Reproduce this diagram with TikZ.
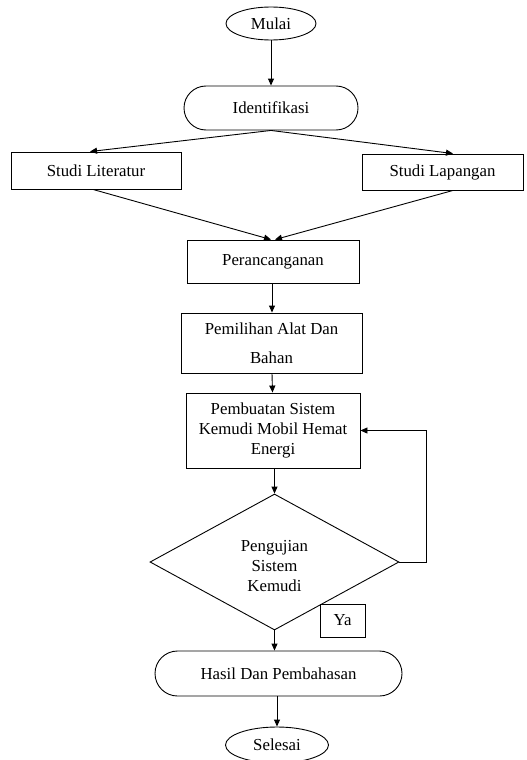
\documentclass[tikz,border=0pt]{standalone}
\usepackage{fontspec}
\setmainfont{Liberation Serif}
\usetikzlibrary{shapes.geometric,shapes.misc,arrows.meta}
\begin{document}
\begin{tikzpicture}[x=1pt,y=-1pt,
  every node/.style={font=\fontsize{16.8}{20}\selectfont, inner sep=0pt, line width=0.9pt},
  box/.style={draw, rectangle, align=center},
  term/.style={draw, ellipse},
  stadium/.style={draw, rounded rectangle},
  decis/.style={draw, diamond, align=center},
  arr/.style={draw, line width=0.9pt, -{Triangle[length=7pt,width=6pt]}}
]
\useasboundingbox (0,0) rectangle (527,760);
\fill[white] (0,0) rectangle (527,760);

\node[term, minimum width=90, minimum height=33] (mulai) at (271,23.5) {Mulai};
\node[stadium, minimum width=174, minimum height=44] (ident) at (271,108) {Identifikasi};
\node[box, minimum width=170, minimum height=37] (lit) at (96,170.5) {Studi Literatur};
\node[box, minimum width=161, minimum height=36] (lap) at (442.5,172) {Studi Lapangan};
\node[box, minimum width=172, minimum height=43] (peran) at (273,261.5) {Perancanganan};
\node[box, minimum width=181, minimum height=60] (pemil) at (271.5,343) {Pemilihan Alat Dan\\[9pt]Bahan};
\node[box, minimum width=174, minimum height=75] (pembu) at (273,430.5) {Pembuatan Sistem\\Kemudi Mobil Hemat\\Energi};
\node[decis, minimum width=249, minimum height=136] (uji) at (274.5,562) {};
\node[align=center] (ujit) at (274.5,566) {Pengujian\\Sistem\\Kemudi};
\node[box, minimum width=45, minimum height=33] (ya) at (342.5,620.5) {Ya};
\node[stadium, minimum width=247, minimum height=45] (hasil) at (278.5,673.5) {Hasil Dan Pembahasan};
\node[term, minimum width=103, minimum height=36] (selesai) at (277,745) {Selesai};

\draw[arr] (mulai.south) -- (ident.north);
\draw[arr] (ident.south) -- ([xshift=-6pt]lit.north);
\draw[arr] (ident.south) -- ([xshift=10.5pt]lap.north);
\draw[arr] ([xshift=-3pt]lit.south) -- ([xshift=-2pt]peran.north);
\draw[arr] ([xshift=10.5pt]lap.south) -- ([xshift=2pt]peran.north);
\draw[arr] ([xshift=-1pt]peran.south) -- ([xshift=0.5pt]pemil.north);
\draw[arr] ([xshift=0.5pt]pemil.south) -- ([xshift=-0.5pt]pembu.north);
\draw[arr] ([xshift=1.5pt]pembu.south) -- (uji.north);
\draw[arr] (uji.east) -- ++(27,0) |- (pembu.east);
\draw[arr] (uji.south) -- (uji.south |- hasil.north);
\draw[arr] ([xshift=-1.5pt]hasil.south) -- (selesai.north);
\end{tikzpicture}
\end{document}
